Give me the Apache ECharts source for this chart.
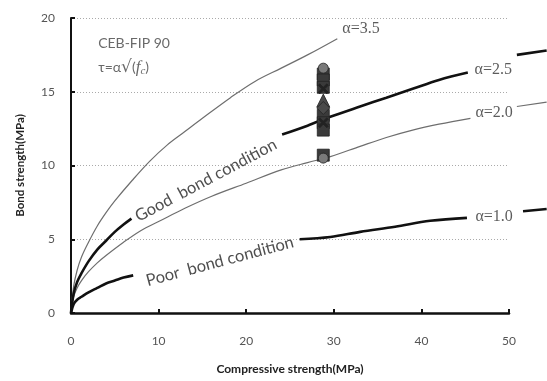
<!DOCTYPE html>
<html><head><meta charset="utf-8">
<script src="https://cdn.jsdelivr.net/npm/echarts@6/dist/echarts.min.js"></script>
<style>html,body{margin:0;padding:0;background:#fff}#c{width:547px;height:381px}</style>
</head><body><div id="c"></div>
<script>
// ---- data ----
const xTickValues = [0, 10, 20, 30, 40, 50];
const yTickValues = [0, 5, 10, 15, 20];

const curve35 = [[0,0],[0.3,1.8],[0.7,2.9],[1.2,3.8],[2,4.8],[3,5.9],[4,6.8],[5,7.6],[7,9.0],[9,10.3],[11,11.4],[13,12.3],[15,13.2],[18.2,14.6],[21,15.7],[24,16.6],[27,17.5],[30.4,18.6]];
const curve25a = [[0,0],[0.3,1.3],[0.7,2.1],[1.2,2.7],[2,3.5],[3,4.3],[4,4.9],[5,5.5],[6,6.0],[6.9,6.4]];
const curve25b = [[24.1,12.1],[27,12.7],[29.6,13.3],[33,14.0],[36,14.6],[39,15.2],[42,15.8],[45.3,16.3]];
const curve25c = [[50.9,17.5],[54.3,17.8]];
const curve20a = [[0,0],[0.3,1.1],[0.7,1.7],[1.2,2.2],[2,2.8],[3,3.4],[4,3.9],[6,4.8],[8,5.6],[10,6.2],[13,7.1],[16,7.9],[20,8.8],[24,9.7],[27,10.2],[29.6,10.6],[33,11.3],[36,11.9],[39,12.4],[42,12.8],[45.6,13.2]];
const curve20b = [[50.9,14.0],[54.3,14.3]];
const curve10a = [[0,0],[0.3,0.6],[0.7,0.9],[1.2,1.1],[2,1.4],[3,1.7],[4,2.0],[5,2.2],[6,2.4],[7.1,2.55]];
const curve10b = [[26.1,5.0],[29.6,5.15],[33,5.5],[37,5.85],[41,6.25],[45.2,6.45]];
const curve10c = [[51.6,6.9],[54.3,7.05]];

const testStrength = 28.8;
const squareValues = [16.2, 15.8, 15.3, 13.4, 12.9, 12.4, 10.7];
const circleValues = [16.6, 10.5];
const triangleValues = [14.4];
const diamondValues = [13.9];
const crossValues = [15.2, 12.9];

const alphaLabels = ['α=3.5', 'α=2.5', 'α=2.0', 'α=1.0'];
const alphaLabelPos = [[33.1, 19.25], [48.2, 16.5], [48.3, 13.56], [48.3, 6.5]];
const bondLabels = ['Good  bond condition', 'Poor  bond condition'];
const bondLabelPos = [[15.4, 9.0], [17.0, 3.5]];
const titleLines = ['CEB-FIP 90', 'τ=α√(fc)'];
const titlePos = [[3.1, 18.3], [3.1, 16.65]];

// ---- chart ----
const thin = {color: '#6e6e6e', width: 1.2};
const thick = {color: '#111', width: 2.6};
function curve(data, style, ext) {
  return {type: 'line', data: data, showSymbol: false, symbol: 'none', smooth: 0.35,
    xAxisIndex: ext ? 1 : 0, yAxisIndex: ext ? 1 : 0,
    lineStyle: style, clip: false, silent: true, z: 3};
}
function markers(vals, symbol, color, size) {
  return {type: 'scatter', data: vals.map(v => [testStrength, v]), symbol: symbol,
    symbolSize: size, itemStyle: {color: color, borderColor: '#222', borderWidth: 0.8, opacity: 1}, z: 5};
}
const crossPath = 'path://M0,1.5L1.5,0L5,3.5L8.5,0L10,1.5L6.5,5L10,8.5L8.5,10L5,6.5L1.5,10L0,8.5L3.5,5Z';
const pxPerUnit = (547 - 38 - 71) / 50;
const extMax = (547 - 71) / pxPerUnit;

const chart = echarts.init(document.getElementById('c'), null, {renderer: 'canvas'});
chart.setOption({
  animation: false,
  backgroundColor: '#fff',
  grid: [
    {left: 71, right: 38, top: 18, bottom: 68, containLabel: false},
    {left: 71, right: 0, top: 18, bottom: 68, containLabel: false}
  ],
  xAxis: [{
    type: 'value', min: xTickValues[0], max: xTickValues[xTickValues.length - 1], interval: 10,
    name: 'Compressive strength(MPa)', nameLocation: 'middle', nameGap: 50,
    nameTextStyle: {fontFamily: 'Lato', fontWeight: 'bold', fontSize: 12, color: '#222'},
    axisLine: {show: true, onZero: false, lineStyle: {color: '#111', width: 2.5}},
    axisTick: {show: true, inside: true, length: 4, lineStyle: {color: '#111', width: 2}},
    axisLabel: {margin: 22, fontFamily: 'Lato', fontSize: 12, color: '#555'},
    splitLine: {show: false}
  }, {
    type: 'value', gridIndex: 1, min: 0, max: extMax, show: false
  }],
  yAxis: [{
    type: 'value', min: yTickValues[0], max: yTickValues[yTickValues.length - 1], interval: 5,
    name: 'Bond strength(MPa)', nameLocation: 'middle', nameGap: 45,
    nameTextStyle: {fontFamily: 'Lato', fontWeight: 'bold', fontSize: 11.5, color: '#222'},
    axisLine: {show: true, lineStyle: {color: '#111', width: 2}},
    axisTick: {show: true, inside: true, length: 4, lineStyle: {color: '#111', width: 2}},
    axisLabel: {margin: 16, fontFamily: 'Lato', fontSize: 12, color: '#555'},
    splitLine: {show: true, lineStyle: {color: '#aaa', type: [1, 2], width: 1}}
  }, {
    type: 'value', gridIndex: 1, min: 0, max: 20, show: false
  }],
  series: [
    curve(curve35, thin),
    curve(curve20a, thin),
    curve(curve20b, thin, true),
    curve(curve25a, thick),
    curve(curve25b, thick),
    curve(curve25c, thick, true),
    curve(curve10a, thick),
    curve(curve10b, thick),
    curve(curve10c, thick, true),
    markers(squareValues, 'rect', '#3a3a3a', 12),
    markers(triangleValues, 'triangle', '#4a4a4a', 13),
    markers(diamondValues, 'diamond', '#4a4a4a', 13),
    markers(circleValues, 'circle', '#7a7a7a', 10),
    markers(crossValues, crossPath, '#222', 10),
    {
      type: 'scatter', symbolSize: 0, silent: true, z: 6,
      data: alphaLabels.map((t, i) => ({value: alphaLabelPos[i], name: t})),
      label: {show: true, position: 'inside', formatter: p => p.name,
        fontFamily: 'Liberation Serif', fontSize: 16, color: '#333'}
    },
    {
      type: 'scatter', symbolSize: 0, silent: true, z: 6,
      data: bondLabels.map((t, i) => ({value: bondLabelPos[i], name: t,
        label: {rotate: i === 0 ? 28 : 15}})),
      label: {show: true, position: 'inside', formatter: p => p.name,
        fontFamily: 'Lato', fontSize: 16.5, color: '#222'}
    },
    {
      type: 'scatter', symbolSize: 0, silent: true, z: 6,
      data: titleLines.map((t, i) => ({value: titlePos[i], name: t})),
      label: {show: true, position: 'right', distance: 0,
        formatter: p => p.dataIndex === 0 ? '{n|' + p.name + '}' : '{n|τ=α}{r|√}{n|(}{i|f}{s|c}{n|)}',
        rich: {
          n: {fontFamily: 'Lato', fontSize: 14, color: '#444'},
          r: {fontFamily: 'DejaVu Sans', fontSize: 17, color: '#444'},
          i: {fontFamily: 'Liberation Serif', fontStyle: 'italic', fontSize: 17, color: '#444'},
          s: {fontFamily: 'Liberation Serif', fontStyle: 'italic', fontSize: 11, color: '#444', padding: [7, 0, 0, 0]}
        }}
    }
  ]
});
</script></body></html>
